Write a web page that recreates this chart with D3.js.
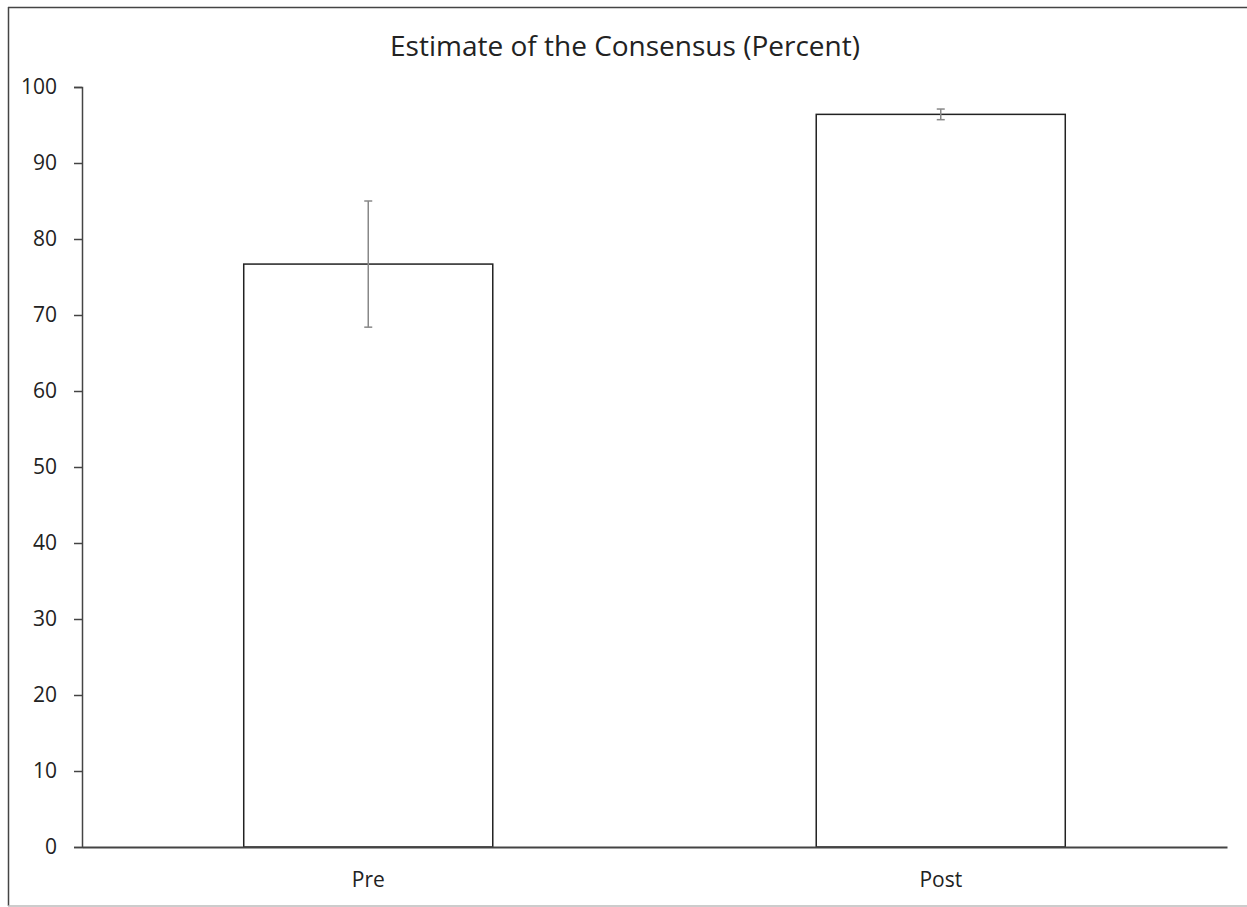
<!DOCTYPE html>
<html><head><meta charset="utf-8">
<script src="https://cdn.jsdelivr.net/npm/d3@7"></script>
<style>body{margin:0;background:#fff}svg{display:block}</style>
</head><body>
<script>
const categories = ["Pre", "Post"];
const values = [76.7, 96.4];
const errors = [8.3, 0.7];
const yTicks = [0,10,20,30,40,50,60,70,80,90,100];
const title = "Estimate of the Consensus (Percent)";

(function(){
const W = 1247, H = 907;
const svg = d3.select("body").append("svg").attr("width", W).attr("height", H);
svg.append("rect").attr("width", W).attr("height", H).attr("fill", "#fff");
// outer frame
svg.append("line").attr("x1",8.5).attr("x2",8.5).attr("y1",7).attr("y2",906).attr("stroke","#444").attr("stroke-width",1.5);
svg.append("line").attr("x1",8).attr("x2",W).attr("y1",7.5).attr("y2",7.5).attr("stroke","#444").attr("stroke-width",1.5);
svg.append("line").attr("x1",8).attr("x2",W).attr("y1",906).attr("y2",906).attr("stroke","#bbb").attr("stroke-width",1.5);

const mLeft = 82, mRight = 1227, mTop = 87, mBottom = 847;
const x = d3.scaleBand().domain(categories).range([mLeft, mRight]).padding(0);
const y = d3.scaleLinear().domain([0, 100]).range([mBottom, mTop]);
const barFrac = 0.435;
const font = "'Open Sans', sans-serif";

svg.append("text").attr("x", 625).attr("y", 56).attr("text-anchor","middle")
  .attr("font-family", font).attr("font-size", 28).attr("fill","#222").text(title);

// y axis
const yAxis = svg.append("g").attr("transform", `translate(${mLeft},0)`)
  .call(d3.axisLeft(y).tickValues(yTicks).tickSize(8).tickPadding(17).tickSizeOuter(8));
yAxis.select(".domain").attr("stroke","#444").attr("stroke-width",1.5);
yAxis.selectAll(".tick line").attr("stroke","#444").attr("stroke-width",1.5);
yAxis.selectAll("text").attr("font-family", font).attr("font-size", 21).attr("fill","#222");

// bars
svg.append("g").selectAll("rect").data(categories).join("rect")
  .attr("x", d => x(d) + x.bandwidth()*(1-barFrac)/2)
  .attr("width", x.bandwidth()*barFrac)
  .attr("y", (d,i) => y(values[i]))
  .attr("height", (d,i) => y(0) - y(values[i]))
  .attr("fill","#fff").attr("stroke","#222").attr("stroke-width",1.5);

// x axis
const xAxis = svg.append("g").attr("transform", `translate(0,${mBottom})`)
  .call(d3.axisBottom(x).tickSize(0).tickPadding(25));
xAxis.select(".domain").attr("stroke","#444").attr("stroke-width",2);
xAxis.selectAll("text").attr("font-family", font).attr("font-size", 21).attr("fill","#222");

// error bars
const eg = svg.append("g").attr("stroke","#888").attr("stroke-width",1.5);
categories.forEach((c,i) => {
  const cx = x(c) + x.bandwidth()/2;
  const hi = y(values[i] + errors[i]), lo = y(values[i] - errors[i]);
  eg.append("line").attr("x1",cx).attr("x2",cx).attr("y1",hi).attr("y2",lo);
  eg.append("line").attr("x1",cx-4).attr("x2",cx+4).attr("y1",hi).attr("y2",hi);
  eg.append("line").attr("x1",cx-4).attr("x2",cx+4).attr("y1",lo).attr("y2",lo);
});
})();
</script>
</body></html>
